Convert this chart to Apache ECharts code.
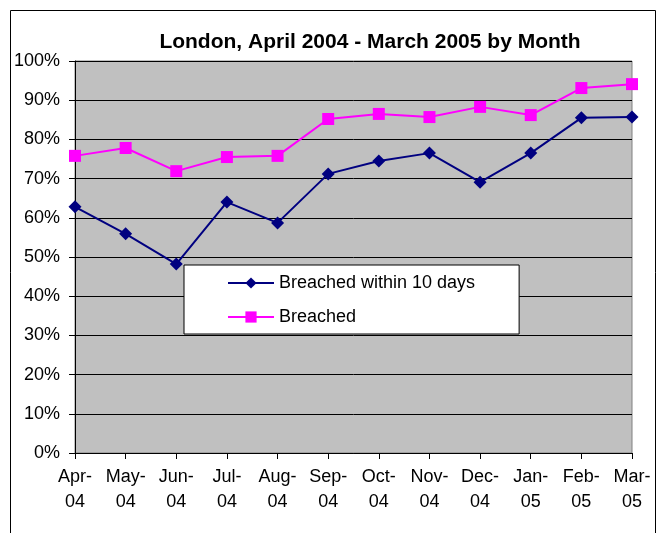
<!DOCTYPE html>
<html>
<head>
<meta charset="utf-8">
<script src="https://cdn.jsdelivr.net/npm/echarts@6/dist/echarts.min.js"></script>
<style>
  html, body { margin: 0; padding: 0; background: #fff; }
  #chart { width: 662px; height: 533px; }
</style>
</head>
<body>
<div id="chart"></div>
<script>
// month labels along the bottom
const months = ['Apr-\n04', 'May-\n04', 'Jun-\n04', 'Jul-\n04', 'Aug-\n04', 'Sep-\n04',
  'Oct-\n04', 'Nov-\n04', 'Dec-\n04', 'Jan-\n05', 'Feb-\n05', 'Mar-\n05']
// values in percent
const within10Days = [62.8, 55.9, 48.2, 64.0, 58.7, 71.2, 74.5, 76.5, 69.1, 76.5, 85.5, 85.7]
const breached = [75.8, 77.8, 71.9, 75.5, 75.8, 85.2, 86.5, 85.7, 88.3, 86.2, 93.1, 94.1]

const font = 'Liberation Sans, Arial, sans-serif'

const chart = echarts.init(document.getElementById('chart'))
chart.setOption({
  animation: false,
  textStyle: { fontFamily: font },
  title: {
    text: 'London, April 2004 - March 2005 by Month',
    left: 365,
    textAlign: 'center',
    top: 27,
    textStyle: { fontFamily: font, fontSize: 21, fontWeight: 'bold', color: '#000' }
  },
  graphic: [{
    type: 'rect',
    shape: { x: 10.5, y: 10.5, width: 645, height: 600 },
    style: { fill: 'none', stroke: '#000', lineWidth: 1 },
    silent: true
  }],
  grid: {
    left: 75, right: 30, top: 61, bottom: 80,
    show: true,
    backgroundColor: '#C0C0C0',
    borderColor: '#808080',
    borderWidth: 1
  },
  legend: {
    orient: 'vertical',
    left: 184,
    top: 265,
    padding: [9, 44, 8, 43],
    itemGap: 16,
    itemWidth: 46,
    itemHeight: 14,
    backgroundColor: '#fff',
    borderColor: '#000',
    borderWidth: 1,
    borderRadius: 0,
    textStyle: { fontFamily: font, fontSize: 18, color: '#000' },
    data: ['Breached within 10 days', 'Breached']
  },
  xAxis: {
    type: 'category',
    data: months,
    boundaryGap: false,
    axisLine: { lineStyle: { color: '#000', width: 1 } },
    axisTick: { length: 6, lineStyle: { color: '#000' } },
    axisLabel: { color: '#000', fontSize: 18, lineHeight: 25, margin: 12, interval: 0, fontFamily: font },
    splitLine: { show: false }
  },
  yAxis: {
    type: 'value',
    min: 0,
    max: 100,
    interval: 10,
    axisLine: { show: true, lineStyle: { color: '#000', width: 1 } },
    axisTick: { show: true, length: 6, lineStyle: { color: '#000' } },
    axisLabel: { color: '#000', fontSize: 18, margin: 15, formatter: '{value}%', fontFamily: font },
    splitLine: { lineStyle: { color: '#000', width: 1 } }
  },
  series: [
    {
      name: 'Breached within 10 days',
      type: 'line',
      data: within10Days,
      symbol: 'diamond',
      symbolSize: 13,
      itemStyle: { color: '#000080' },
      lineStyle: { color: '#000080', width: 2 },
      z: 3
    },
    {
      name: 'Breached',
      type: 'line',
      data: breached,
      symbol: 'rect',
      symbolSize: 12,
      itemStyle: { color: '#FF00FF' },
      lineStyle: { color: '#FF00FF', width: 2 },
      z: 2
    }
  ]
})
</script>
</body>
</html>
